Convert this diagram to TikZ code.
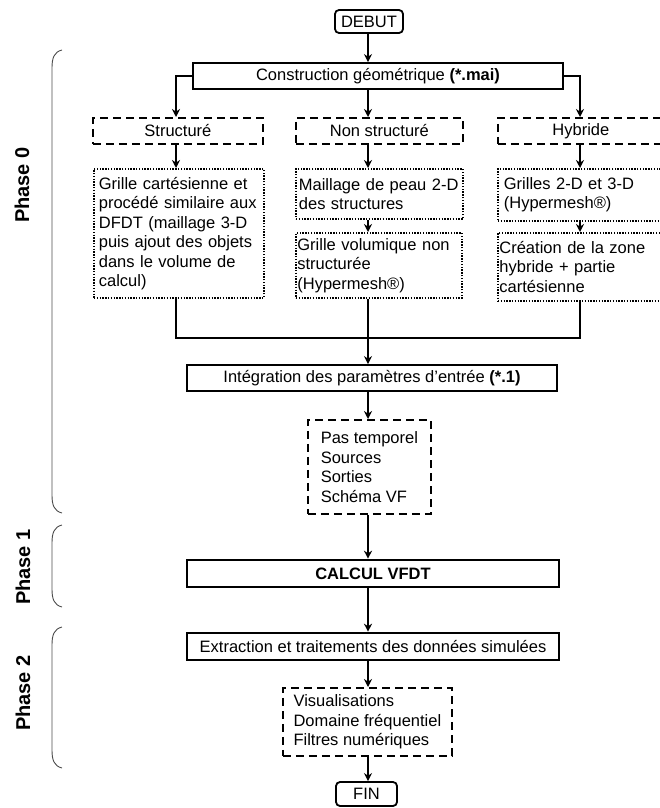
\documentclass[tikz,border=0pt]{standalone}
\usepackage{fontspec}
\setmainfont{Liberation Sans}
\usetikzlibrary{arrows.meta}

\newcommand\nodefont{\fontsize{16.5}{19.5}\selectfont}

\tikzset{
  every node/.style={font=\nodefont, inner sep=3pt},
  box/.style={draw, line width=1.8pt, minimum height=26pt},
  dbox/.style={draw, line width=1.8pt, dash pattern=on 8pt off 5pt, anchor=north west},
  pbox/.style={draw, line width=1.8pt, dash pattern=on 1.4pt off 1.4pt, align=left, anchor=north west},
  ebox/.style={draw, line width=1.8pt, rounded corners=4pt},
  arr/.style={-{Stealth[length=8pt,width=8pt]}, line width=1.5pt},
  brk/.style={line width=0.9pt, black!70},
  phase/.style={font=\fontsize{20}{24}\selectfont\bfseries, rotate=90}
}

\begin{document}
\begin{tikzpicture}[x=1pt,y=-1pt]
    \useasboundingbox (0,0) rectangle (659,808);
    \coordinate (ax) at (368,0);
    \coordinate (cl) at (176,0);
    \coordinate (cr) at (580,0);
    \coordinate (mg) at (368,338);

    % phases
    \node[phase] (ph0) at (22,185) {Phase 0};
    \node[phase] (ph1) at (23,567) {Phase 1};
    \node[phase] (ph2) at (23,693) {Phase 2};
    \foreach \a/\b in {50/513,525/607,627/768}
      {\draw[brk] (62,\a) .. controls (54,\a+2) and (52,\a+8) .. (52,\a+18)
         -- (52,\b-18) .. controls (52,\b-8) and (54,\b-2) .. (62,\b);}

    % phase 0
    \node[ebox, minimum width=68, minimum height=23] (debut) at (369,21.5) {DEBUT};
    \node[box, minimum width=370] (constr) at (378,76) {Construction géométrique \textbf{(*.mai)}};
    \node[dbox, minimum width=170, minimum height=26] (struct) at (92,117) {Structuré};
    \node[dbox, minimum width=167, minimum height=26] (nonstr) at (295,117) {Non structuré};
    \node[dbox, minimum width=166, minimum height=26] (hybr) at (497,117) {Hybride};
    \node[pbox, text width=160, minimum height=129, inner xsep=5pt] (grille) at (93,168)
      {Grille cartésienne et\\procédé similaire aux\\DFDT (maillage 3-D\\puis ajout des objets\\dans le volume de\\calcul)};
    \node[pbox, text width=161, minimum height=50] (peau) at (295,168)
      {Maillage de peau 2-D\\des structures};
    \node[pbox, text width=163, minimum height=65, inner xsep=1.5pt] (vol) at (295,232)
      {Grille volumique non\\structurée\\(Hypermesh®)};
    \node[pbox, text width=154, minimum height=52, inner xsep=6pt] (grilles) at (497,168)
      {Grilles 2-D et 3-D\\(Hypermesh®)};
    \node[pbox, text width=163, minimum height=68, inner xsep=1.5pt] (creat) at (497,232)
      {Création de la zone\\hybride + partie\\cartésienne};
    \node[box, minimum width=370] (integ) at (372,378) {Intégration des paramètres d'entrée \textbf{(*.1)}};
    \node[dbox, align=left, minimum width=123, minimum height=94] (pas) at (307,419)
      {Pas temporel\\Sources\\Sorties\\Schéma VF};

    % phase 1 and 2
    \node[box, line width=2.6pt, minimum width=372, minimum height=27, font=\nodefont\bfseries] (calc) at (373,573.5) {CALCUL VFDT};
    \node[box, line width=2.6pt, minimum width=372, minimum height=27] (extr) at (373,646.5) {Extraction et traitements des données simulées};
    \node[dbox, align=left, minimum width=169, minimum height=68] (visu) at (282,687)
      {Visualisations\\Domaine fréquentiel\\Filtres numériques};
    \node[ebox, minimum width=61, minimum height=24] (fin) at (366.5,794) {FIN};

    % connectors
    \draw[arr] (debut.south -| ax) -- (constr.north -| ax);
    \draw[arr] (constr.south -| ax) -- (nonstr.north -| ax);
    \draw[arr] (constr.west) -| (struct.north -| cl);
    \draw[arr] (constr.east) -| (hybr.north -| cr);
    \draw[arr] (struct.south -| cl) -- (grille.north -| cl);
    \draw[arr] (nonstr.south -| ax) -- (peau.north -| ax);
    \draw[arr] (hybr.south -| cr) -- (grilles.north -| cr);
    \draw[arr] (peau.south -| ax) -- (vol.north -| ax);
    \draw[arr] (grilles.south -| cr) -- (creat.north -| cr);
    \draw[line width=1.5pt] (grille.south -| cl) |- (mg) -| (creat.south -| cr);
    \draw[arr] (vol.south -| ax) -- (integ.north -| ax);
    \draw[arr] (integ.south -| ax) -- (pas.north -| ax);
    \draw[arr] (pas.south -| ax) -- (calc.north -| ax);
    \draw[arr] (calc.south -| ax) -- (extr.north -| ax);
    \draw[arr] (extr.south -| ax) -- (visu.north -| ax);
    \draw[arr] (visu.south -| ax) -- (fin.north -| ax);
\end{tikzpicture}
\end{document}
